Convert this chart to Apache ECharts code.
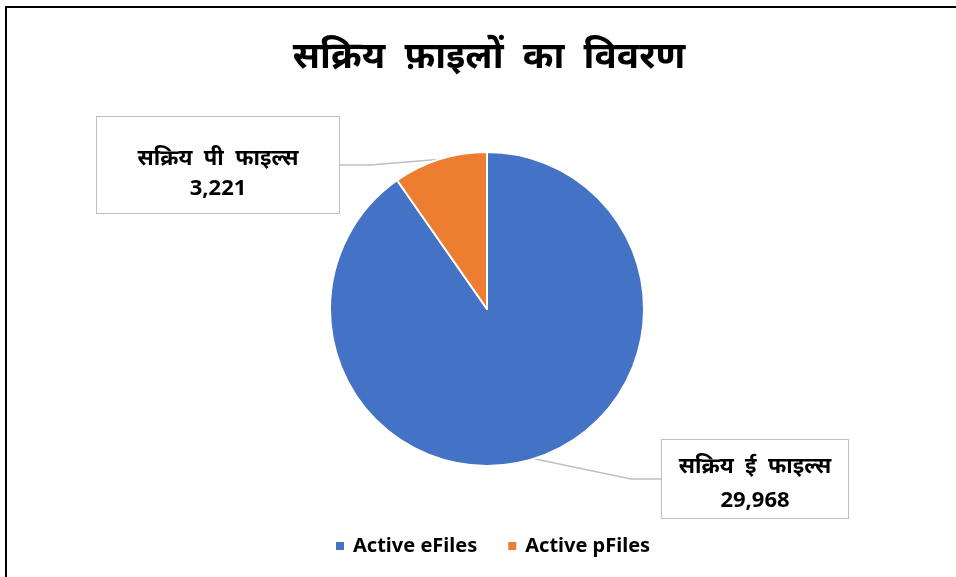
<!DOCTYPE html>
<html>
<head>
<meta charset="utf-8">
<script src="https://cdn.jsdelivr.net/npm/echarts@6/dist/echarts.min.js"></script>
<style>
  html, body { margin: 0; padding: 0; background: #fff; }
  #chart { width: 956px; height: 577px; }
</style>
</head>
<body>
<div id="chart"></div>
<script>
const titleText = "सक्रिय  फ़ाइलों  का  विवरण";
const legendNames = ["Active eFiles", "Active pFiles"];
const sliceLabels = ["सक्रिय  ई  फाइल्स", "सक्रिय  पी  फाइल्स"];
const sliceValues = [29968, 3221];
const sliceColors = ["#4472C4", "#ED7D31"];

// where each callout box sits (centre, px)
const boxCentres = [
  { x: 755, y: 479 },
  { x: 218, y: 165 },
];

const chart = echarts.init(document.getElementById("chart"));

const fmt = (v) => v.toLocaleString("en-US");

chart.setOption({
  animation: false,
  title: {
    text: titleText,
    top: 34,
    left: 484,
    textAlign: "center",
    textStyle: {
      fontFamily: "Noto Sans",
      fontSize: 37,
      fontWeight: "bold",
      color: "#000",
    },
  },
  legend: {
    data: legendNames,
    bottom: 16,
    left: 329,
    icon: "rect",
    itemWidth: 10,
    itemHeight: 10,
    itemGap: 29,
    textStyle: {
      fontFamily: "Noto Sans",
      fontSize: 20,
      fontWeight: "bold",
      color: "#000",
      padding: [0, 0, 0, 3],
    },
  },
  graphic: [
    {
      type: "rect",
      shape: { x: 6, y: 7, width: 1200, height: 1200 },
      style: { fill: "none", stroke: "#000", lineWidth: 2 },
      z: 100,
    },
  ],
  series: [
    {
      type: "pie",
      center: [487, 309],
      radius: 157,
      startAngle: 90,
      clockwise: true,
      itemStyle: { borderColor: "#fff", borderWidth: 2 },
      data: sliceValues.map((v, i) => ({
        name: legendNames[i],
        value: v,
        itemStyle: { color: sliceColors[i] },
        label: {
          width: i === 0 ? 170 : 226,
          padding: i === 0 ? [10, 8, 0, 8] : [27, 8, 9, 8],
          rich: {
            n: { lineHeight: i === 0 ? 34 : 30 },
            v: { lineHeight: i === 0 ? 34 : 30 },
          },
        },
      })),
      label: {
        show: true,
        position: "outside",
        formatter: (p) => `{n|${sliceLabels[p.dataIndex]}}\n{v|${fmt(p.value)}}`,
        backgroundColor: "#fff",
        borderColor: "#bfbfbf",
        borderWidth: 1,
        align: "center",
        rich: {
          n: {
            fontFamily: "Noto Sans",
            fontSize: 22,
            fontWeight: "bold",
            color: "#000",
            lineHeight: 32,
            align: "center",
          },
          v: {
            fontFamily: "Noto Sans",
            fontSize: 22,
            fontWeight: "bold",
            color: "#000",
            lineHeight: 32,
            align: "center",
          },
        },
      },
      labelLine: {
        show: true,
        lineStyle: { color: "#bfbfbf", width: 1.5 },
      },
      labelLayout: (params) => {
        const c = boxCentres[params.dataIndex];
        return { x: c.x, y: c.y, align: "center", verticalAlign: "middle" };
      },
    },
  ],
});
</script>
</body>
</html>
